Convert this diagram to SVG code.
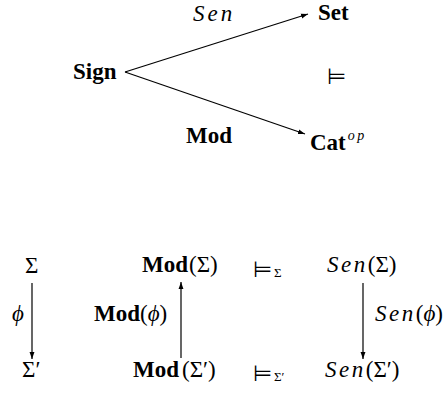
<svg xmlns="http://www.w3.org/2000/svg" width="448" height="393" viewBox="0 0 448 393">
<style>
text{font-family:"Liberation Serif","Times New Roman",serif;fill:#000;font-size:23px}
.b{font-weight:bold}
.i{font-style:italic}
.m{font-family:"DejaVu Sans",sans-serif;font-size:22px}
.s{font-size:13px}
.c{stroke:#000;stroke-width:1.2;fill:none}
</style>
<defs>
<marker id="ah" viewBox="0 0 10 10" refX="10" refY="5" markerWidth="7" markerHeight="7" markerUnits="userSpaceOnUse" orient="auto">
<path d="M0,1.5 L10,5 L0,8.5 Z" fill="#000"/>
</marker>
</defs>
<g id="connectors">
<line class="c" x1="125" y1="72" x2="308" y2="14" marker-end="url(#ah)"/>
<line class="c" x1="125" y1="72" x2="305" y2="134" marker-end="url(#ah)"/>
<line class="c" x1="32" y1="283" x2="32" y2="359" marker-end="url(#ah)"/>
<line class="c" x1="181" y1="358" x2="181" y2="282" marker-end="url(#ah)"/>
<line class="c" x1="363" y1="283" x2="363" y2="359" marker-end="url(#ah)"/>
</g>
<g id="labels">
<text class="i" x="193" y="21" letter-spacing="3">Sen</text>
<text class="b" x="186" y="143">Mod</text>
<text x="12" y="321" class="i">ϕ</text>
<text x="94" y="321"><tspan class="b">Mod</tspan>(<tspan class="i">ϕ</tspan>)</text>
<text x="375" y="321"><tspan class="i" letter-spacing="2.5">Sen</tspan>(<tspan class="i">ϕ</tspan>)</text>
</g>
<g id="node-sign"><text class="b" x="73" y="79">Sign</text></g>
<g id="node-set"><text class="b" x="318" y="20">Set</text></g>
<g id="node-cat"><text class="b" x="310" y="150">Cat<tspan class="i" font-weight="normal" font-size="14" dx="2" dy="-10" letter-spacing="2.5">op</tspan></text></g>
<g id="node-models"><text class="m" x="327" y="84">⊨</text></g>
<g id="node-sigma"><text x="25" y="273">Σ</text></g>
<g id="node-sigma2"><text x="22" y="377">Σ′</text></g>
<g id="node-mod-sigma"><text x="142" y="272"><tspan class="b">Mod</tspan><tspan dx="1">(Σ)</tspan></text></g>
<g id="node-mod-sigma2"><text x="133" y="377"><tspan class="b">Mod</tspan><tspan dx="3">(Σ′)</tspan></text></g>
<g id="node-models-sigma"><text class="m" x="253" y="277">⊨</text><text class="s" x="274" y="277">Σ</text></g>
<g id="node-models-sigma2"><text class="m" x="253" y="381">⊨</text><text class="s" x="274" y="381">Σ′</text></g>
<g id="node-sen-sigma"><text x="327" y="272"><tspan class="i" letter-spacing="2.5">Sen</tspan>(Σ)</text></g>
<g id="node-sen-sigma2"><text x="325" y="377"><tspan class="i" letter-spacing="2.5">Sen</tspan>(Σ′)</text></g>
</svg>
